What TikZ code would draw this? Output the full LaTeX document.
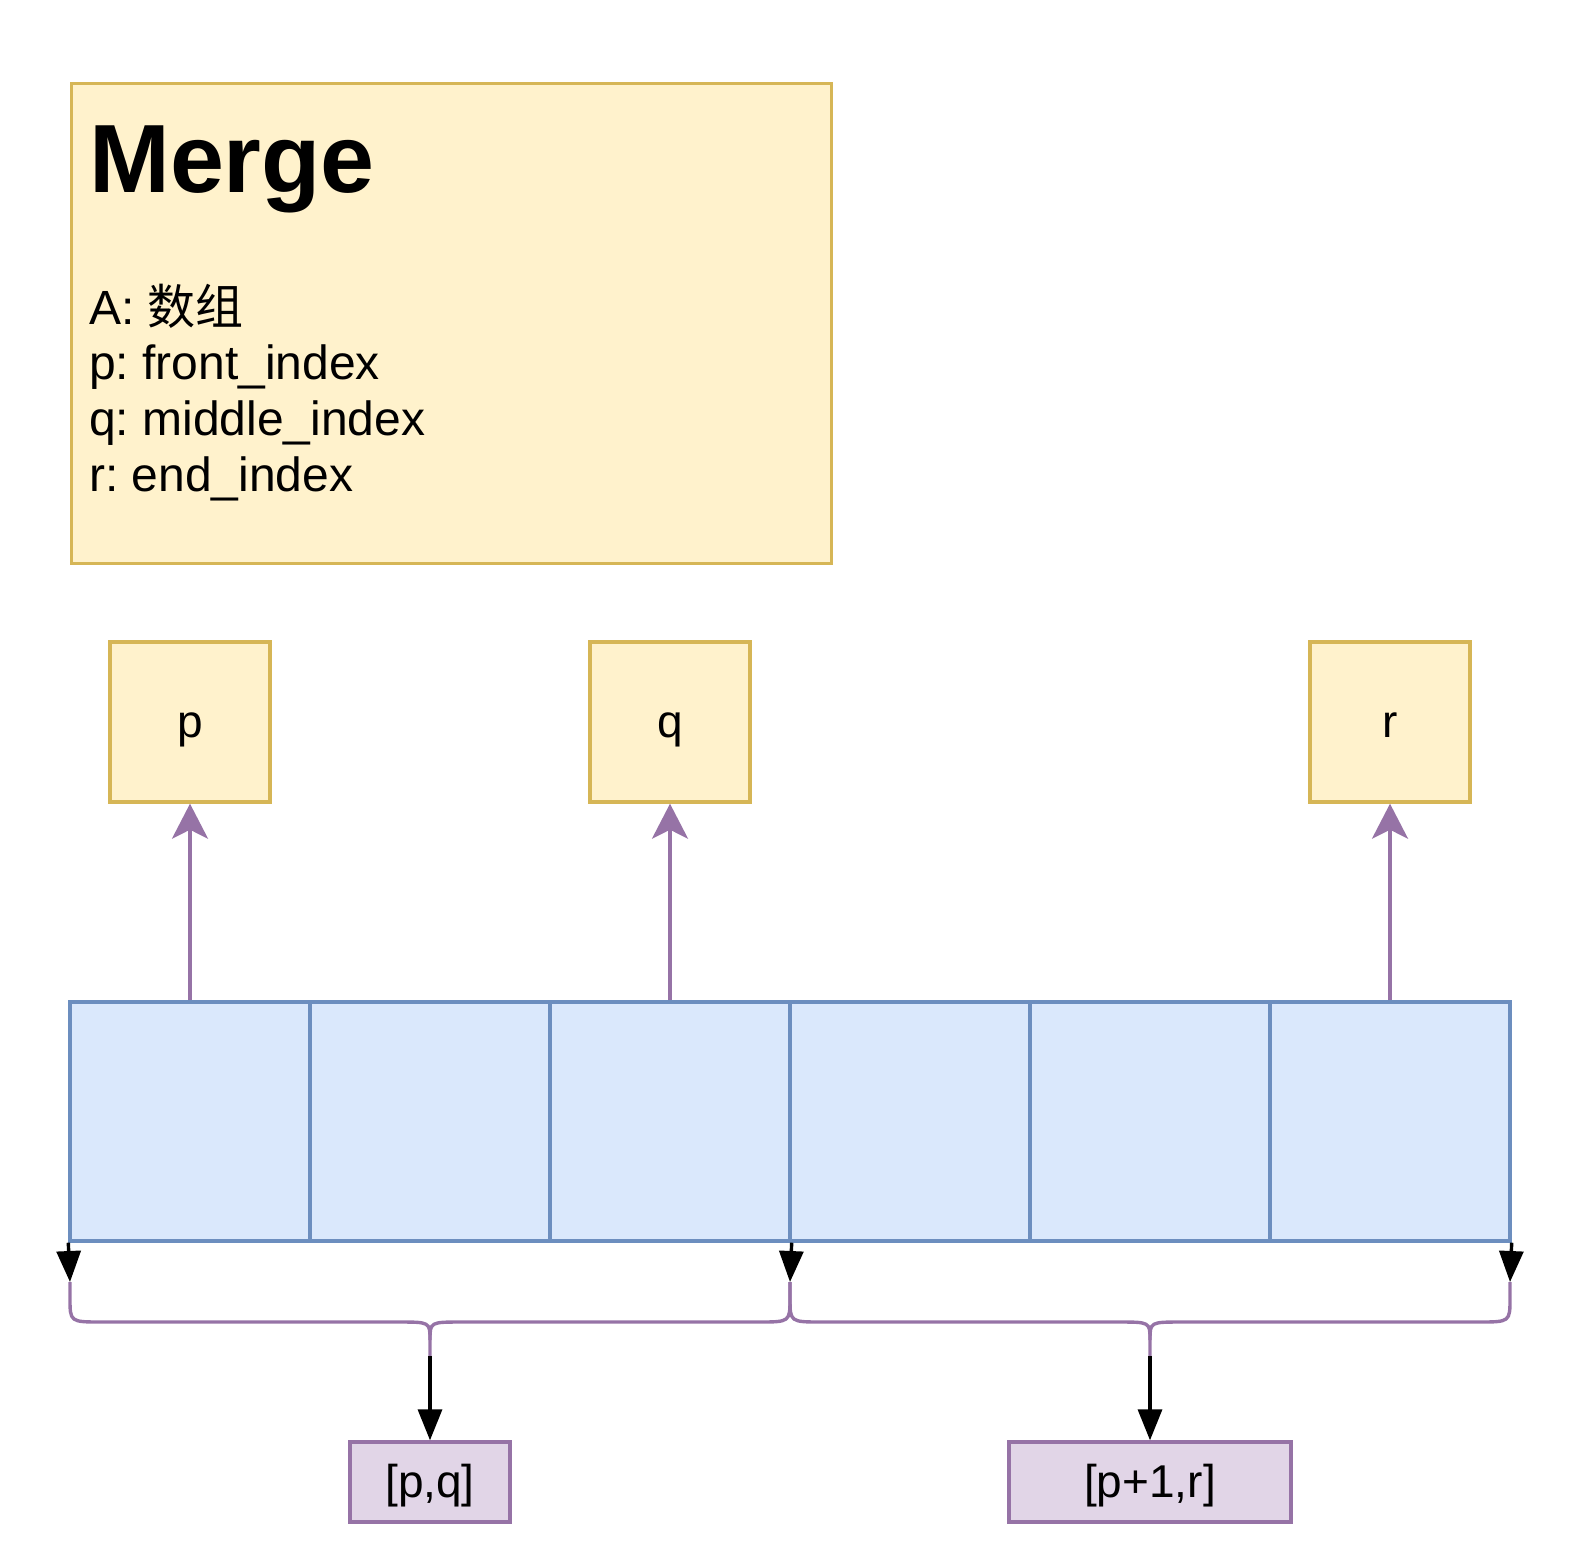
\documentclass[tikz,border=0pt]{standalone}
\usepackage{fontspec}
\setmainfont{Liberation Sans}
\newfontfamily\cjk{Noto Sans CJK SC}
\usetikzlibrary{arrows.meta}
\frenchspacing
\definecolor{yfill}{HTML}{FFF2CC}
\definecolor{ydraw}{HTML}{D6B656}
\definecolor{bfill}{HTML}{DAE8FC}
\definecolor{bdraw}{HTML}{6C8EBF}
\definecolor{pfill}{HTML}{E1D5E7}
\definecolor{pdraw}{HTML}{9673A6}
\tikzset{
  lw/.style={line width=3.4pt},
  ybox/.style={draw=ydraw, fill=yfill, lw, inner sep=0pt},
  cell/.style={draw=bdraw, fill=bfill, lw, minimum width=240pt, minimum height=239pt, inner sep=0pt},
  labeltext/.style={font=\fontsize{46}{55}\selectfont, text height=36.8pt, text depth=4.9pt},
  rangebox/.style={draw=pdraw, fill=pfill, lw, minimum height=80pt, inner sep=0pt, labeltext},
  idxbox/.style={ybox, minimum width=160pt, minimum height=160pt, labeltext},
  desc/.style={anchor=base west, inner sep=0pt, font=\fontsize{48}{56}\selectfont},
  uparrow/.style={draw=pdraw, lw, -{Stealth[length=35pt, width=36pt, inset=9pt]}},
  downarrow/.style={draw=black, lw, -{Triangle[length=31pt, width=24pt]}},
  bracepath/.style={draw=pdraw, lw, line join=round}
}
\begin{document}
\begin{tikzpicture}[x=1pt, y=-1pt]
\useasboundingbox (0,0) rectangle (1584,1564);
% description box
\node[ybox, minimum width=760pt, minimum height=480pt, anchor=north west] (merge) at (70,82) {};
\node[anchor=base west, inner sep=0pt, font=\fontsize{97}{110}\selectfont\bfseries] (title) at (89,192) {Merge};
\node[desc] (la) at (89,324) {A: {\cjk 数组}};
\node[desc] (lp) at (89,379.7) {p: front\_index};
\node[desc] (lq) at (89,435.4) {q: middle\_index};
\node[desc] (lr) at (89,491.1) {r: end\_index};
% index boxes
\node[idxbox] (p) at (190,722) {p};
\node[idxbox] (q) at (670,722) {q};
\node[idxbox] (r) at (1390,722) {r};
% array cells
\foreach \i in {1,...,6} {
  \node[cell] (c\i) at ({70+240*(\i-0.5)},1121.5) {};
}
% arrows up
\draw[uparrow] (c1.north) -- (p.south);
\draw[uparrow] (c3.north) -- (q.south);
\draw[uparrow] (c6.north) -- (r.south);
% brace end coordinates
\coordinate (e1) at (70,1282);
\coordinate (e2) at (790,1282);
\coordinate (e3) at (1510,1282);
\coordinate (t1) at (430,1356);
\coordinate (t2) at (1150,1356);
% braces
\draw[bracepath] (e1) -- (70,1298) .. controls (70,1322) .. (102,1322) -- (398,1322)
  .. controls (430,1322) .. (430,1340) -- (t1);
\draw[bracepath] (430,1340) .. controls (430,1322) .. (462,1322) -- (758,1322)
  .. controls (790,1322) .. (790,1298) -- (e2);
\draw[bracepath] (e2) -- (790,1298) .. controls (790,1322) .. (822,1322) -- (1118,1322)
  .. controls (1150,1322) .. (1150,1340) -- (t2);
\draw[bracepath] (1150,1340) .. controls (1150,1322) .. (1182,1322) -- (1478,1322)
  .. controls (1510,1322) .. (1510,1298) -- (e3);
% range boxes
\node[rangebox, minimum width=160pt] (pq) at (430,1482) {[p,q]};
\node[rangebox, minimum width=282pt] (pr) at (1150,1482) {[p+1,r]};
% black arrows
\draw[downarrow] (c1.south west) -- (e1);
\draw[downarrow] (c3.south east) -- (e2);
\draw[downarrow] (c6.south east) -- (e3);
\draw[downarrow] (t1) -- (pq.north);
\draw[downarrow] (t2) -- (pr.north);
\end{tikzpicture}
\end{document}
